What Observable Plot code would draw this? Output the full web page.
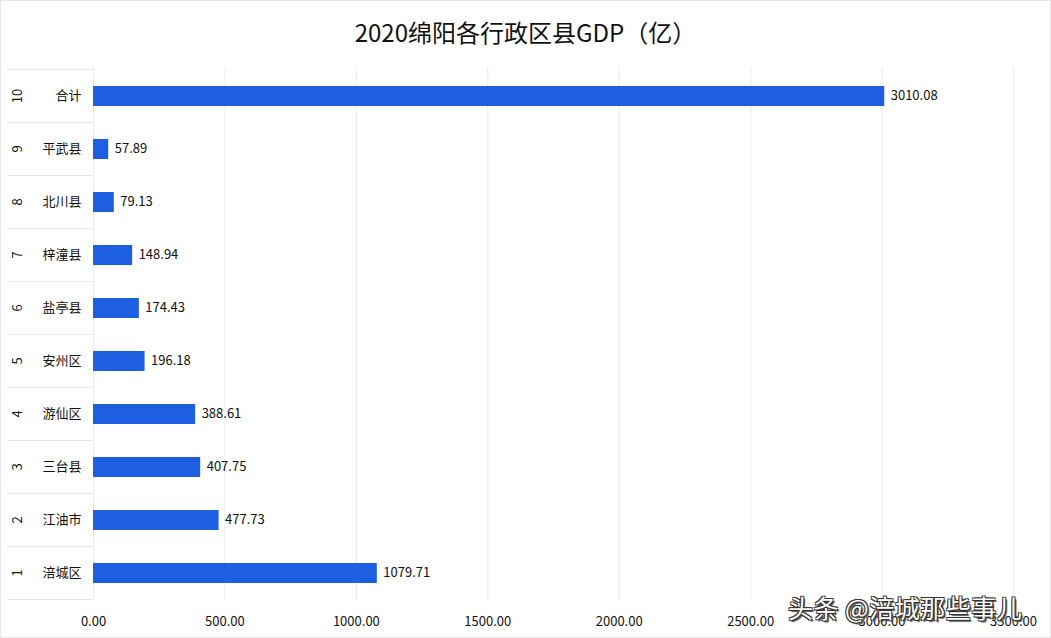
<!DOCTYPE html>
<html><head><meta charset="utf-8">
<script src="https://cdn.jsdelivr.net/npm/d3@7"></script>
<script src="https://cdn.jsdelivr.net/npm/@observablehq/plot@0.6"></script>
<style>
html,body{margin:0;padding:0;background:#fff;}
#wrap{position:relative;width:1051px;height:638px;box-sizing:border-box;border:1px solid #e8e8e8;overflow:hidden;font-family:"Noto Sans CJK SC","Noto Sans",sans-serif;color:#111;}
#title{height:57px;line-height:62px;text-align:center;font-size:24px;color:#111;}
#chart svg{display:block;}
#wm{position:absolute;left:787px;top:588px;font-size:25px;color:#fff;letter-spacing:0.5px;
text-shadow:1px 1px 0 #333,-1px -1px 0 #333,1px -1px 0 #333,-1px 1px 0 #333,2px 2px 1px #555;}
</style></head>
<body>
<div id="wrap">
<div id="title">2020绵阳各行政区县GDP（亿）</div>
<div id="chart"></div>
<div id="wm">头条 @涪城那些事儿</div>
</div>
<script>
const ranks = [10, 9, 8, 7, 6, 5, 4, 3, 2, 1];
const names = ["合计", "平武县", "北川县", "梓潼县", "盐亭县", "安州区", "游仙区", "三台县", "江油市", "涪城区"];
const values = [3010.08, 57.89, 79.13, 148.94, 174.43, 196.18, 388.61, 407.75, 477.73, 1079.71];
const xTicks = [0, 500, 1000, 1500, 2000, 2500, 3000, 3500];

const data = names.map((n, i) => ({name: n, rank: ranks[i], value: values[i]}));
const fmt = d3.format(".2f");
const font = `"Noto Sans CJK SC","Noto Sans",sans-serif`;

const plot = Plot.plot({
  width: 1049,
  height: 580,
  marginTop: 9,
  marginBottom: 38,
  marginLeft: 92,
  marginRight: 37,
  style: {fontFamily: font, fontSize: "13px", color: "#111", background: "transparent"},
  x: {domain: [0, 3500], ticks: xTicks, tickFormat: fmt, tickSize: 0, tickPadding: 16, label: null},
  y: {domain: names, padding: 0, axis: null},
  marks: [
    Plot.gridX(xTicks, {stroke: "#ebebeb", strokeOpacity: 1}),
    Plot.barX(data, {x: "value", y: "name", fill: "#1d5fe0", insetTop: 17, insetBottom: 16}),
    Plot.text(data, {x: "value", y: "name", text: d => fmt(d.value), textAnchor: "start", dx: 6, fill: "#111", fontSize: 13}),
    Plot.text(data, {y: "name", text: "name", frameAnchor: "left", textAnchor: "end", dx: -12, fill: "#111", fontSize: 13}),
    Plot.text(data, {y: "name", text: d => String(d.rank), frameAnchor: "left", textAnchor: "middle", dx: -76, rotate: -90, fill: "#111", fontSize: 13})
  ]
});
document.getElementById("chart").appendChild(plot);

// table lines in the left label column, positioned with Plot's y scale
const ys = plot.scale("y");
const bw = ys.bandwidth;
const svg = d3.select(plot);
const g = svg.insert("g", ":first-child").attr("stroke", "#e8e8e8").attr("stroke-width", 1);
const bounds = new Set();
names.forEach(n => { const y0 = ys.apply(n); bounds.add(Math.round(y0) + 0.5); bounds.add(Math.round(y0 + bw) + 0.5); });
bounds.forEach(y => g.append("line").attr("x1", 6).attr("x2", 92).attr("y1", y).attr("y2", y));
</script>
</body></html>
